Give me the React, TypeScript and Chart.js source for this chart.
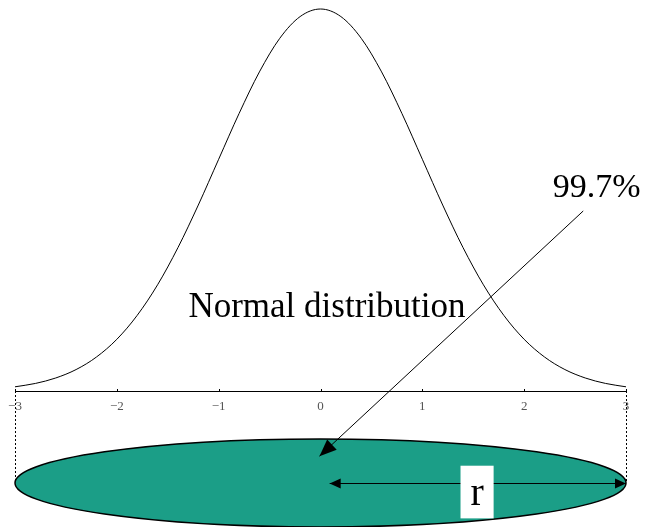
import { useEffect, useRef } from "react";
import { Chart, registerables } from "chart.js";

Chart.register(...registerables);

// Standard normal density, sampled every 0.2 sigma
const sigmaSteps = [
  -3, -2.8, -2.6, -2.4, -2.2, -2, -1.8, -1.6, -1.4, -1.2, -1, -0.8, -0.6, -0.4, -0.2, 0,
  0.2, 0.4, 0.6, 0.8, 1, 1.2, 1.4, 1.6, 1.8, 2, 2.2, 2.4, 2.6, 2.8, 3,
];
const densityValues = [
  0.0044, 0.0079, 0.0136, 0.0224, 0.0355, 0.054, 0.079, 0.1109, 0.1497, 0.1942, 0.242,
  0.2897, 0.3332, 0.3683, 0.391, 0.3989, 0.391, 0.3683, 0.3332, 0.2897, 0.242, 0.1942,
  0.1497, 0.1109, 0.079, 0.054, 0.0355, 0.0224, 0.0136, 0.0079, 0.0044,
];
const tickValues = [-3, -2, -1, 0, 1, 2, 3];
const coverageLabel = "99.7%";
const curveLabel = "Normal distribution";
const radiusLabel = "r";

// Ellipse spanning the ±3σ range, drawn below the axis (data units)
const ELLIPSE_CY = -0.096;
const ELLIPSE_RY = 0.046;
const SERIF = "'Liberation Serif', 'Times New Roman', serif";

function arrowHead(
  ctx: CanvasRenderingContext2D,
  fx: number,
  fy: number,
  tx: number,
  ty: number,
  len: number,
  half: number
) {
  const a = Math.atan2(ty - fy, tx - fx);
  const bx = tx - len * Math.cos(a);
  const by = ty - len * Math.sin(a);
  ctx.beginPath();
  ctx.moveTo(tx, ty);
  ctx.lineTo(bx + half * Math.sin(a), by - half * Math.cos(a));
  ctx.lineTo(bx - half * Math.sin(a), by + half * Math.cos(a));
  ctx.closePath();
  ctx.fill();
}

const overlayPlugin = {
  id: "sigmaOverlay",
  afterDraw(chart: any) {
    const { ctx } = chart;
    const xs = chart.scales.x;
    const ys = chart.scales.y;
    const px = (v: number) => xs.getPixelForValue(v);
    const py = (v: number) => ys.getPixelForValue(v);
    const lo = tickValues[0];
    const hi = tickValues[tickValues.length - 1];
    const axisY = Math.round(py(0));

    ctx.save();

    // small tick marks standing on the axis
    ctx.strokeStyle = "#000";
    ctx.lineWidth = 1;
    for (const t of xs.ticks) {
      const x = Math.round(px(t.value)) + 0.5;
      ctx.beginPath();
      ctx.moveTo(x, axisY - 2);
      ctx.lineTo(x, axisY + 1);
      ctx.stroke();
    }

    // dotted drop lines from ±3σ
    ctx.setLineDash([2, 2]);
    for (const v of [lo, hi]) {
      ctx.beginPath();
      ctx.moveTo(Math.round(px(v)) + 0.5, py(0));
      ctx.lineTo(Math.round(px(v)) + 0.5, py(ELLIPSE_CY));
      ctx.stroke();
    }
    ctx.setLineDash([]);

    // ellipse
    const cy = py(ELLIPSE_CY);
    const rx = (px(hi) - px(lo)) / 2;
    const ry = py(ELLIPSE_CY - ELLIPSE_RY) - cy;
    ctx.beginPath();
    ctx.ellipse((px(hi) + px(lo)) / 2, cy, rx, ry, 0, 0, Math.PI * 2);
    ctx.fillStyle = "#1b9e87";
    ctx.fill();
    ctx.lineWidth = 1.5;
    ctx.strokeStyle = "#000";
    ctx.stroke();

    // arrow from the 99.7% label to the ellipse
    ctx.fillStyle = "#000";
    ctx.lineWidth = 1;
    const ax0 = px(2.58);
    const ay0 = py(0.188);
    const ax1 = px(-0.01);
    const ay1 = py(-0.068);
    ctx.beginPath();
    ctx.moveTo(ax0, ay0);
    ctx.lineTo(ax1, ay1);
    ctx.stroke();
    arrowHead(ctx, ax0, ay0, ax1, ay1, 17, 7);

    // radius arrow
    const rx0 = px(0.09);
    const rx1 = px(hi);
    ctx.beginPath();
    ctx.moveTo(rx0, Math.round(cy) + 0.5);
    ctx.lineTo(rx1, Math.round(cy) + 0.5);
    ctx.stroke();
    arrowHead(ctx, rx1, cy + 0.5, rx0, cy + 0.5, 11, 5);
    arrowHead(ctx, rx0, cy + 0.5, rx1, cy + 0.5, 11, 5);

    // radius label box
    const bx0 = px(1.375);
    const bx1 = px(1.7);
    const by0 = py(-0.078);
    const by1 = py(-0.133);
    ctx.fillStyle = "#fff";
    ctx.fillRect(bx0, by0, bx1 - bx0, by1 - by0);
    ctx.fillStyle = "#000";
    ctx.font = `40px ${SERIF}`;
    ctx.textAlign = "center";
    ctx.textBaseline = "alphabetic";
    ctx.fillText(radiusLabel, (bx0 + bx1) / 2, py(-0.119));

    // text labels
    ctx.textAlign = "left";
    ctx.font = `34px ${SERIF}`;
    ctx.fillText(coverageLabel, px(2.28), py(0.2026));
    ctx.font = `35px ${SERIF}`;
    ctx.fillText(curveLabel, px(-1.297), py(0.0773));

    ctx.restore();
  },
};

export default function App() {
  const canvasRef = useRef<HTMLCanvasElement | null>(null);

  useEffect(() => {
    if (!canvasRef.current) return;
    const chart = new Chart(canvasRef.current, {
      type: "line",
      data: {
        datasets: [
          {
            data: sigmaSteps.map((x, i) => ({ x, y: densityValues[i] })),
            borderColor: "#000",
            borderWidth: 1,
            pointRadius: 0,
            fill: false,
            cubicInterpolationMode: "monotone",
          },
        ],
      },
      options: {
        responsive: false,
        animation: false,
        devicePixelRatio: 1,
        layout: { padding: { left: 15, right: 19, top: 0, bottom: 0 } },
        plugins: {
          legend: { display: false },
          tooltip: { enabled: false },
          title: { display: false },
        },
        scales: {
          x: {
            type: "linear",
            min: -3,
            max: 3,
            position: { y: 0 } as any,
            afterBuildTicks: (axis: any) => {
              axis.ticks = tickValues.map((value) => ({ value }));
            },
            border: { display: true, color: "#000", width: 1 },
            grid: {
              display: true,
              drawOnChartArea: false,
              drawTicks: false,
            },
            ticks: {
              padding: 8,
              color: "#555",
              font: { family: SERIF, size: 13 },
              maxRotation: 0,
              callback: (v: any) => (v < 0 ? "\u2212" + Math.abs(v) : String(v)),
            },
          },
          y: {
            type: "linear",
            display: false,
            min: -0.142,
            max: 0.4083,
          },
        },
      },
      plugins: [overlayPlugin],
    });
    return () => chart.destroy();
  }, []);

  return (
    <div style={{ position: "absolute", left: 0, top: 0, width: 645, height: 527, background: "#fff" }}>
      <canvas ref={canvasRef} width={645} height={527} />
    </div>
  );
}
